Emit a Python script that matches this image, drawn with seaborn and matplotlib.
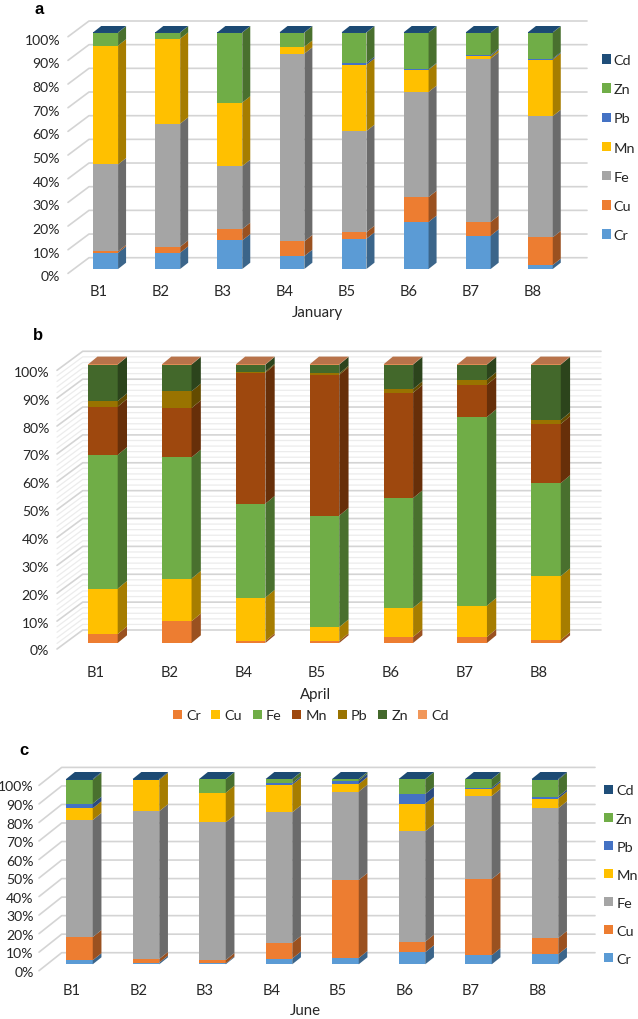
import matplotlib
matplotlib.use("Agg")
import matplotlib.pyplot as plt
import pandas as pd
import seaborn as sns
from matplotlib.patches import Patch, Polygon
from matplotlib.transforms import Affine2D

METALS = ["Cr", "Cu", "Fe", "Mn", "Pb", "Zn", "Cd"]
PERCENT_TICKS = list(range(0, 101, 10))

# January
jan_sites = ["B1", "B2", "B3", "B4", "B5", "B6", "B7", "B8"]
jan_cr = [6.9, 6.9, 12.1, 5.5, 12.8, 19.9, 14.1, 1.7]
jan_cu = [0.6, 2.5, 4.8, 6.2, 2.8, 10.5, 5.8, 11.7]
jan_fe = [36.7, 52.0, 26.6, 79.3, 42.7, 44.4, 69.0, 51.2]
jan_mn = [50.2, 35.9, 26.8, 2.9, 28.0, 9.4, 1.0, 23.9]
jan_pb = [0, 0, 0, 0, 0.7, 0.2, 0.5, 0.4]
jan_zn = [5.5, 2.6, 29.6, 6.0, 12.9, 15.5, 9.5, 11.0]
jan_cd = [0.1, 0.1, 0.1, 0.1, 0.1, 0.1, 0.1, 0.1]

# April (no B3 in this month)
apr_sites = ["B1", "B2", "B4", "B5", "B6", "B7", "B8"]
apr_cr = [3.2, 7.8, 0.7, 0.7, 2.2, 2.2, 1.1]
apr_cu = [16.3, 15.3, 15.6, 5.0, 10.4, 11.2, 22.9]
apr_fe = [48.0, 43.5, 33.7, 40.0, 39.4, 67.7, 33.4]
apr_mn = [17.3, 17.7, 47.0, 50.5, 37.8, 11.6, 21.2]
apr_pb = [2.0, 6.0, 0.4, 0.5, 1.3, 1.7, 1.4]
apr_zn = [13.1, 9.6, 2.5, 3.2, 8.8, 5.5, 19.9]
apr_cd = [0.1, 0.1, 0.1, 0.1, 0.1, 0.1, 0.1]

# June
jun_sites = ["B1", "B2", "B3", "B4", "B5", "B6", "B7", "B8"]
jun_cr = [2.2, 0.9, 0.5, 3.1, 3.4, 6.5, 4.9, 5.4]
jun_cu = [12.5, 2.0, 1.8, 8.4, 42.1, 5.7, 41.1, 8.8]
jun_fe = [63.2, 79.7, 74.3, 70.5, 47.7, 59.6, 44.8, 70.0]
jun_mn = [6.3, 16.9, 16.0, 14.9, 4.1, 14.9, 3.6, 5.2]
jun_pb = [2.5, 0, 0, 0.9, 1.8, 5.2, 0.9, 1.1]
jun_zn = [12.9, 0.1, 7.3, 2.1, 0.8, 8.0, 4.6, 9.1]
jun_cd = [0.4, 0.4, 0.1, 0.1, 0.1, 0.1, 0.1, 0.4]

office_colors = ["#5B9BD5", "#ED7D31", "#A5A5A5", "#FFC000", "#4472C4", "#70AD47", "#1F4E79"]
april_colors = ["#ED7D31", "#FFC000", "#70AD47", "#9E480E", "#997300", "#43682B", "#F1975A"]

W, H = 638, 1020
GRID_MAJOR = "#d4d4d4"
GRID_MINOR = "#ececec"
TICK_FS = 10.1
TEXT_FS = 10.8
LEGEND_FS = 10.4

sns.set_theme(style="white")
plt.rcParams["font.family"] = ["Lato", "DejaVu Sans"]
plt.rcParams["text.color"] = "#262626"


def shade(color, k=0.65):
    r, g, b = matplotlib.colors.to_rgb(color)
    return (r * k, g * k, b * k)


def px_to_data(ax, dx, dy):
    inv = ax.transData.inverted()
    x0, y0 = inv.transform((0, 0))
    x1, y1 = inv.transform((dx, dy))
    return x1 - x0, y1 - y0


def draw_walls(ax, layout):
    # back wall and left wall lines of the 3D box
    sx, sy = px_to_data(ax, *layout["side"])
    bx, by = px_to_data(ax, 0, layout["back_up"])
    x0 = -0.5 + (layout["wall_left"] - layout["left"]) / layout["step"]
    x1 = -0.5 + (layout["wall_right"] - layout["left"]) / layout["step"]

    if layout["minor"]:
        for t in range(0, 100, 2):
            if t % 10 == 0:
                continue
            ax.plot([x0 + sx, x0, x1], [t + by + sy, t + by, t + by], color=GRID_MINOR,
                    lw=0.9, zorder=0, clip_on=False)
    for t in PERCENT_TICKS:
        ax.plot([x0 + sx, x0, x1], [t + by + sy, t + by, t + by], color=GRID_MAJOR,
                lw=1.2, zorder=0.5, clip_on=False)


def add_depth(ax, layout, top_color):
    dx, dy = px_to_data(ax, *layout["depth"])
    tops = {}
    for p in list(ax.patches):
        x, y, w, h = p.get_x(), p.get_y(), p.get_width(), p.get_height()
        if h <= 0:
            continue
        right = x + w
        side = Polygon([(right, y), (right + dx, y + dy), (right + dx, y + h + dy), (right, y + h)],
                       closed=True, facecolor=shade(p.get_facecolor()), edgecolor="none",
                       zorder=3, clip_on=False)
        ax.add_patch(side)
        tops[x] = (x, w, max(tops[x][2], y + h) if x in tops else y + h)
    for x, w, y in tops.values():
        top = Polygon([(x, y), (x + w, y), (x + w + dx, y + dy), (x + dx, y + dy)],
                      closed=True, facecolor=top_color, edgecolor="none", zorder=3, clip_on=False)
        ax.add_patch(top)


def draw_panel(fig, sites, series, colors, layout):
    n = len(sites)
    ax = fig.add_axes([layout["left"] / W, 1 - layout["floor"] / H,
                       n * layout["step"] / W, layout["height"] / H])
    ax.patch.set_alpha(0)

    frame = pd.DataFrame(series, index=METALS).T
    frame.insert(0, "site", sites)
    bottom = [0] * n
    for metal, color in zip(METALS, colors):
        sns.barplot(data=frame, x="site", y=metal, order=sites, bottom=bottom, color=color,
                    saturation=1, width=0.4, errorbar=None, ax=ax, zorder=2, linewidth=0)
        bottom = [a + b for a, b in zip(bottom, frame[metal])]

    ax.set_xlim(-0.5, n - 0.5)
    ax.set_ylim(0, 100)
    ax.set_xlabel("")
    ax.set_ylabel("")
    sns.despine(ax=ax, left=True, bottom=True)

    draw_walls(ax, layout)
    add_depth(ax, layout, layout["top_color"])

    ax.set_yticks(PERCENT_TICKS)
    ax.set_yticklabels([f"{t}%" for t in PERCENT_TICKS])
    ax.tick_params(axis="y", length=0, pad=layout["ypad"], labelsize=TICK_FS, labelcolor="#262626")
    ax.tick_params(axis="x", length=0, pad=layout["xpad"], labelsize=TEXT_FS - 0.3, labelcolor="#262626")
    for label in ax.get_yticklabels():
        label.set_transform(label.get_transform() + Affine2D().translate(0, -6.5))
    for label in ax.get_xticklabels():
        label.set_transform(label.get_transform() + Affine2D().translate(-7.4, 0))

    fig.text(layout["title_x"] / W, 1 - layout["title_y"] / H, layout["title"],
             ha="center", va="center", fontsize=TEXT_FS)
    fig.text(layout["letter_x"] / W, 1 - layout["letter_y"] / H, layout["letter"],
             ha="center", va="center", fontsize=12, fontweight="bold",
             family="Liberation Sans", color="black")

    handles = [Patch(facecolor=c, edgecolor="none", label=m) for m, c in zip(METALS, colors)]
    if layout["legend"] == "right":
        fig.legend(handles=handles[::-1], loc="center left", frameon=False, ncol=1,
                   bbox_to_anchor=(layout["leg_x"] / W, 1 - layout["leg_y"] / H),
                   fontsize=LEGEND_FS, labelspacing=layout["leg_space"], handlelength=0.62,
                   handleheight=0.62, handletextpad=0.22, borderpad=0, borderaxespad=0)
    else:
        fig.legend(handles=handles, loc="center", frameon=False, ncol=7,
                   bbox_to_anchor=(layout["leg_x"] / W, 1 - layout["leg_y"] / H),
                   fontsize=LEGEND_FS, columnspacing=0.73, handlelength=0.62,
                   handleheight=0.62, handletextpad=0.3, borderpad=0, borderaxespad=0)
    return ax


panel_a = dict(left=74.6, step=62.1, floor=270, height=236.7, depth=(8, 6.3), side=(-21, -15.7),
               back_up=11.3, wall_left=89, wall_right=587, minor=False,
               top_color="#1C4A73", ypad=10.5, xpad=10.5, title="January", title_x=317,
               title_y=313, letter="a", letter_x=38.7, letter_y=9.5, legend="right", leg_x=601.7,
               leg_y=148.6, leg_space=1.19)
panel_b = dict(left=66, step=73.85, floor=644, height=278.7, depth=(9.3, 7.7), side=(-25.7, -19),
               back_up=13, wall_left=82.7, wall_right=601, minor=True,
               top_color="#B8734A", ypad=12, xpad=16, title="April", title_x=316,
               title_y=695, letter="b", letter_x=38, letter_y=336, legend="bottom", leg_x=311,
               leg_y=716.5)
panel_c = dict(left=46.2, step=66.5, floor=965.3, height=185.3, depth=(8.7, 7), side=(-22.7, -18),
               back_up=11.6, wall_left=61.7, wall_right=595, minor=False,
               top_color="#1C4A73", ypad=9, xpad=13.7, title="June", title_x=305,
               title_y=1011, letter="c", letter_x=24.5, letter_y=750.7, legend="right", leg_x=604,
               leg_y=875.6, leg_space=1.11)

fig = plt.figure(figsize=(W / 100, H / 100), dpi=100, facecolor="white")
draw_panel(fig, jan_sites, [jan_cr, jan_cu, jan_fe, jan_mn, jan_pb, jan_zn, jan_cd], office_colors, panel_a)
draw_panel(fig, apr_sites, [apr_cr, apr_cu, apr_fe, apr_mn, apr_pb, apr_zn, apr_cd], april_colors, panel_b)
draw_panel(fig, jun_sites, [jun_cr, jun_cu, jun_fe, jun_mn, jun_pb, jun_zn, jun_cd], office_colors, panel_c)
fig.savefig("out.png", dpi=100)
